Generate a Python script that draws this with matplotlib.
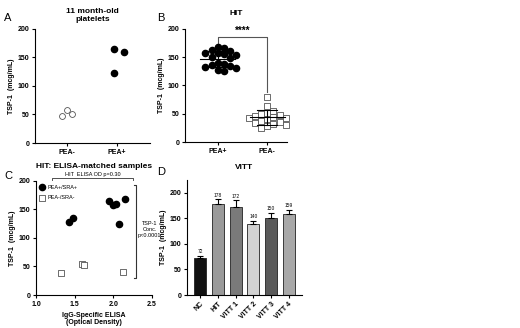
import numpy as np
import matplotlib
matplotlib.use("Agg")
import matplotlib.pyplot as plt

plt.rcParams['font.family'] = ['Liberation Sans', 'DejaVu Sans']
plt.rcParams['axes.linewidth'] = 0.8

# panel A: 11 month-old platelets
a_cats = ['PEA-', 'PEA+']
a_neg = [58, 48, 50]
a_pos = [165, 160, 123]

# panel B: HIT
b_cats = ['PEA+', 'PEA-']
b_pos = [168, 167, 163, 160, 158, 157, 155, 153, 150, 148, 140, 138, 137, 135, 133, 130, 128, 125]
b_neg = [80, 63, 55, 52, 50, 48, 46, 44, 43, 42, 40, 38, 36, 34, 32, 30, 28, 25]

# panel C: ELISA-matched samples
c_pos_x = [1.43, 1.48, 1.95, 2.00, 2.03, 2.08, 2.15]
c_pos_y = [128, 135, 165, 157, 159, 125, 168]
c_neg_x = [1.32, 1.60, 1.62, 2.12]
c_neg_y = [39, 54, 53, 41]

# panel D: VITT
d_cats = ['NC', 'HIT', 'VITT 1', 'VITT 2', 'VITT 3', 'VITT 4']
d_vals = [72, 178, 172, 140, 150, 159]
d_err = [5, 10, 14, 5, 11, 8]
d_colors = ['#111111', '#9a9a9a', '#7a7a7a', '#d2d2d2', '#5a5a5a', '#a8a8a8']

FS = 5


def swarm(vals, dx, dy):
    # simple beeswarm: put each point at the nearest free spot
    placed = []
    offs = np.zeros(len(vals))
    order = np.argsort(vals)[::-1]
    for i in order:
        y = vals[i]
        k = 0
        while True:
            step = (k + 1) // 2 * (1 if k % 2 else -1) * dx * 0.5
            ok = all(((step - px) / dx) ** 2 + ((y - py) / dy) ** 2 >= 1 for px, py in placed)
            if ok:
                break
            k += 1
        placed.append((step, y))
        offs[i] = step
    return offs


def style(ax):
    ax.spines['top'].set_visible(False)
    ax.spines['right'].set_visible(False)
    ax.tick_params(labelsize=FS, length=2.5, width=0.8, pad=1.5)
    for lab in ax.get_xticklabels() + ax.get_yticklabels():
        lab.set_fontweight('bold')


fig = plt.figure(figsize=(5.2, 3.28), dpi=100)

# ---- A ----
axA = fig.add_axes([0.0673, 0.564, 0.221, 0.348])
oa = swarm(np.array(a_neg, float), 0.2, 9)
axA.scatter(0 + oa, a_neg, s=18, facecolors='white', edgecolors='#555555', linewidths=0.6, clip_on=False)
ob = swarm(np.array(a_pos, float), 0.2, 9)
axA.scatter(1 + ob - 0.05, a_pos, s=20, color='black', clip_on=False)
axA.set_xlim(-0.64, 1.66)
axA.set_ylim(0, 200)
axA.set_yticks([0, 50, 100, 150, 200])
axA.set_xticks([0, 1])
axA.set_xticklabels(a_cats)
axA.set_ylabel('TSP-1  (mcg/mL)', fontsize=FS, fontweight='bold', labelpad=2)
axA.set_title('11 month-old\nplatelets', fontsize=6, fontweight='bold', pad=6, linespacing=1.1)
style(axA)
fig.text(0.008, 0.935, 'A', fontsize=8)

# ---- B ----
axB = fig.add_axes([0.356, 0.567, 0.196, 0.345])
op = swarm(np.array(b_pos, float), 0.125, 11)
axB.scatter(0 + op, b_pos, s=20, color='black', zorder=3, clip_on=False)
on = swarm(np.array(b_neg, float), 0.125, 11)
axB.scatter(1 + on, b_neg, s=18, marker='s', facecolors='white', edgecolors='#555555', linewidths=0.6, zorder=3, clip_on=False)
for x, v in [(0, b_pos), (1, b_neg)]:
    m = np.mean(v)
    sd = np.std(v, ddof=1)
    axB.plot([x - 0.35, x + 0.35], [m, m], color='black', lw=0.8, zorder=4)
    axB.plot([x, x], [m - sd, m + sd], color='black', lw=0.8, zorder=4)
    axB.plot([x - 0.2, x + 0.2], [m + sd, m + sd], color='black', lw=0.8, zorder=4)
    axB.plot([x - 0.2, x + 0.2], [m - sd, m - sd], color='black', lw=0.8, zorder=4)
axB.plot([0, 0, 1, 1], [175, 185, 185, 89], color='#555555', lw=0.8, clip_on=False)
axB.text(0.5, 188, '****', ha='center', va='bottom', fontsize=7, fontweight='bold')
axB.set_xlim(-0.66, 1.4)
axB.set_ylim(0, 200)
axB.set_yticks([0, 50, 100, 150, 200])
axB.set_xticks([0, 1])
axB.set_xticklabels(b_cats)
axB.set_ylabel('TSP-1  (mcg/mL)', fontsize=FS, fontweight='bold', labelpad=2)
axB.set_title('HIT', fontsize=6, fontweight='bold', pad=10)
style(axB)
fig.text(0.302, 0.935, 'B', fontsize=8)

# ---- C ----
axC = fig.add_axes([0.0692, 0.1006, 0.223, 0.348])
axC.scatter(c_pos_x, c_pos_y, s=20, color='black', label='PEA+/SRA+', zorder=3)
axC.scatter(c_neg_x, c_neg_y, s=20, marker='s', facecolors='white', edgecolors='#555555',
            linewidths=0.6, label='PEA-/SRA-', zorder=3)
axC.set_xlim(1.0, 2.5)
axC.set_ylim(0, 200)
axC.set_xticks([1.0, 1.5, 2.0, 2.5])
axC.set_yticks([0, 50, 100, 150, 200])
axC.set_ylabel('TSP-1  (mcg/mL)', fontsize=FS, fontweight='bold', labelpad=2)
axC.set_xlabel('IgG-Specific ELISA\n(Optical Density)', fontsize=FS, fontweight='bold', labelpad=3, linespacing=1.1)
axC.set_title('HIT: ELISA-matched samples', fontsize=6, fontweight='bold', pad=9)
leg = axC.legend(loc='upper left', frameon=False, fontsize=4, handletextpad=0.6, borderaxespad=0.1,
                 labelspacing=1.0, handlelength=1.0, bbox_to_anchor=(0.0, 0.99))
axC.plot([1.21, 1.21, 2.25, 2.25], [201, 205, 205, 201], color='#333333', lw=0.6, clip_on=False)
axC.text(1.73, 206, 'HIT  ELISA OD p=0.30', ha='center', va='bottom', fontsize=4)
axC.plot([2.27, 2.30, 2.30, 2.27], [193, 193, 30, 30], color='#333333', lw=0.8, clip_on=False)
axC.text(2.47, 115, 'TSP-1\nConc.\np<0.0001', ha='center', va='center', fontsize=4, linespacing=1.3)
style(axC)
fig.text(0.008, 0.455, 'C', fontsize=8)

# ---- D ----
axD = fig.add_axes([0.3596, 0.1006, 0.221, 0.35])
xs = np.arange(len(d_cats))
axD.bar(xs, d_vals, width=0.68, color=d_colors, edgecolor='#222222', linewidth=0.6, zorder=2)
axD.errorbar(xs, d_vals, yerr=[np.zeros(len(d_err)), d_err], fmt='none', ecolor='black',
             elinewidth=0.8, capsize=2.2, capthick=0.8, zorder=3)
for x, v, e in zip(xs, d_vals, d_err):
    axD.text(x, v + e + 3, str(v), ha='center', va='bottom', fontsize=3.5)
axD.set_xlim(-0.75, 5.75)
axD.set_ylim(0, 225)
axD.set_yticks([0, 50, 100, 150, 200])
axD.set_xticks(xs)
axD.set_xticklabels(d_cats, rotation=45, ha='right', rotation_mode='anchor')
axD.set_ylabel('TSP-1  (mcg/mL)', fontsize=FS, fontweight='bold', labelpad=2)
axD.set_title('VITT', fontsize=6, fontweight='bold', pad=8)
style(axD)
fig.text(0.302, 0.465, 'D', fontsize=8)

fig.savefig('out.png', dpi=100)
